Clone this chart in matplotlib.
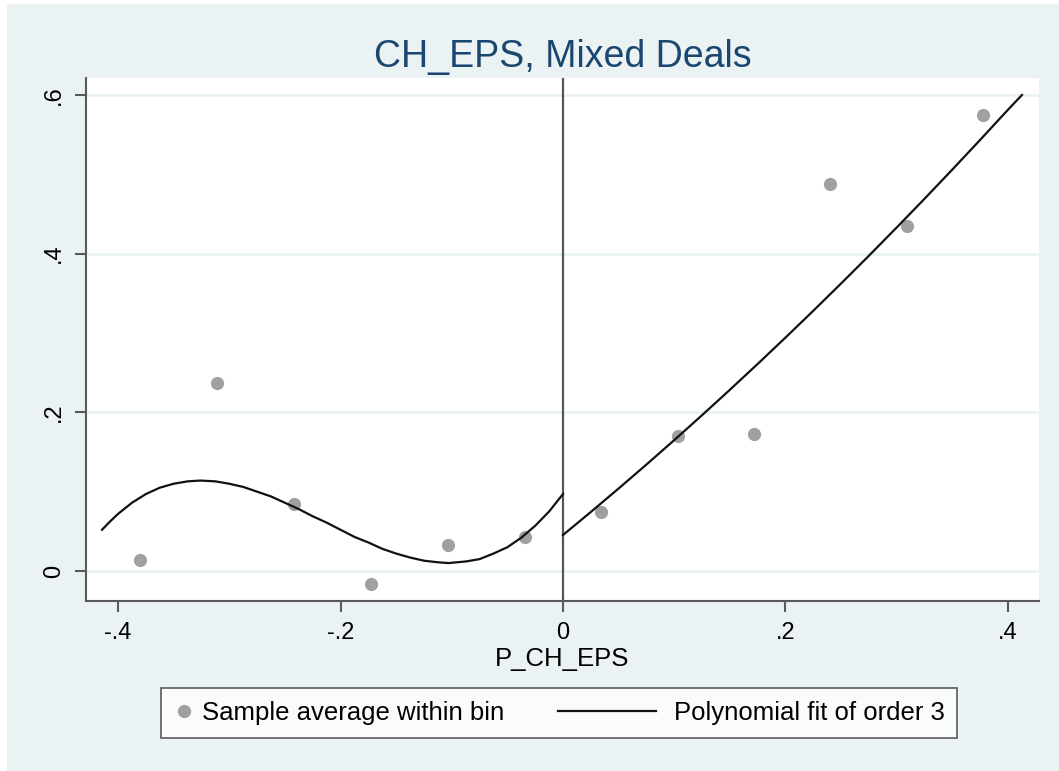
import matplotlib.pyplot as plt
from matplotlib.patches import Rectangle
from matplotlib.legend_handler import HandlerLine2D

# bin averages
bin_x = [-0.380, -0.311, -0.242, -0.1726, -0.103, -0.034,
         0.034, 0.103, 0.172, 0.240, 0.309, 0.378]
bin_y = [0.014, 0.237, 0.084, -0.016, 0.033, 0.043,
         0.074, 0.170, 0.173, 0.488, 0.435, 0.575]

# fitted curve (left and right of the cutoff)
fit_left_x = [-0.4144, -0.4075, -0.400, -0.3875, -0.375, -0.3625, -0.350, -0.3375,
              -0.326, -0.3125, -0.300, -0.2875, -0.275, -0.2625, -0.250, -0.2375,
              -0.225, -0.2125, -0.200, -0.1875, -0.175, -0.1625, -0.150, -0.1375,
              -0.125, -0.1125, -0.103, -0.0875, -0.075, -0.0625, -0.050, -0.0375,
              -0.025, -0.0125, 0.0]
fit_left_y = [0.052, 0.062, 0.072, 0.086, 0.097, 0.105, 0.110, 0.113,
              0.114, 0.113, 0.110, 0.106, 0.100, 0.094, 0.086, 0.078,
              0.069, 0.061, 0.052, 0.043, 0.036, 0.028, 0.022, 0.017,
              0.013, 0.011, 0.010, 0.012, 0.015, 0.022, 0.030, 0.042,
              0.057, 0.075, 0.097]
fit_right_x = [0.0, 0.025, 0.05, 0.075, 0.10, 0.125, 0.15, 0.175, 0.20,
               0.225, 0.25, 0.275, 0.30, 0.325, 0.35, 0.375, 0.40, 0.4126]
fit_right_y = [0.0454, 0.0744, 0.1040, 0.1342, 0.1650, 0.1964, 0.2284, 0.2610, 0.2942,
               0.3280, 0.3624, 0.3974, 0.4330, 0.4692, 0.5060, 0.5434, 0.5814, 0.600]

bg = '#EAF2F3'
plt.rcParams['font.family'] = ['Liberation Sans', 'DejaVu Sans']


class LongLine(HandlerLine2D):
    # legend line that reaches back into the column gap
    def get_xdata(self, legend, xdescent, ydescent, width, height, fontsize):
        x0 = -xdescent - 3.4 * fontsize
        x1 = -xdescent + 0.4 * fontsize
        return [x0, x1], [0.5 * (x0 + x1)]


fig = plt.figure(figsize=(10.59, 7.71), dpi=100, facecolor='white')
fig.patches.append(Rectangle((7/1059, 0), 1, 1 - 4/771, transform=fig.transFigure,
                             facecolor=bg, edgecolor='none', zorder=-10))
ax = fig.add_axes([86/1059, 1 - 601/771, (1039 - 86)/1059, (601 - 78)/771])
ax.set_facecolor('white')

for v in [0, 0.2, 0.4, 0.6]:
    ax.axhline(v, color=bg, lw=2, zorder=0)
ax.axvline(0, color='#555555', lw=1.6, zorder=1)

pts, = ax.plot(bin_x, bin_y, 'o', color='#A0A0A0', markersize=9.5, markeredgewidth=0,
               label='Sample average within bin', zorder=2)
fit, = ax.plot(fit_left_x, fit_left_y, color='#111111', lw=1.6, zorder=3,
               solid_joinstyle='round', label='Polynomial fit of order 3')
ax.plot(fit_right_x, fit_right_y, color='#111111', lw=1.6, zorder=3,
        solid_joinstyle='round')

ax.set_xlim(-0.4288, 0.4279)
ax.set_ylim(-0.0378, 0.6214)
ax.set_xticks([-0.4, -0.2, 0, 0.2, 0.4])
ax.set_xticklabels(['-.4', '-.2', '0', '.2', '.4'])
ax.set_yticks([0, 0.2, 0.4, 0.6])
ax.set_yticklabels(['0', '.2', '.4', '.6'], rotation=90, va='center')

for s in ['top', 'right']:
    ax.spines[s].set_visible(False)
for s in ['left', 'bottom']:
    ax.spines[s].set_color('#5a5a5a')
    ax.spines[s].set_linewidth(1.5)
ax.tick_params(length=8, width=1.5, color='#5a5a5a', labelsize=17, pad=7)

ax.set_xlabel('P_CH_EPS', fontsize=18.5, labelpad=2)
ax.set_title('CH_EPS, Mixed Deals', fontsize=27, color='#1a476f', pad=8)

leg = ax.legend([pts, fit], ['Sample average within bin', 'Polynomial fit of order 3'],
                handler_map={fit: LongLine()},
                loc='center', bbox_to_anchor=(559/1059, 1 - 713/771),
                bbox_transform=fig.transFigure, ncol=2, fontsize=18.5,
                frameon=True, fancybox=False, handlelength=0.8,
                columnspacing=5.5, handletextpad=0.3, borderpad=0.5)
leg.get_frame().set_edgecolor('#333333')
leg.get_frame().set_linewidth(1.2)

fig.savefig('out.png', dpi=100, facecolor=fig.get_facecolor())
